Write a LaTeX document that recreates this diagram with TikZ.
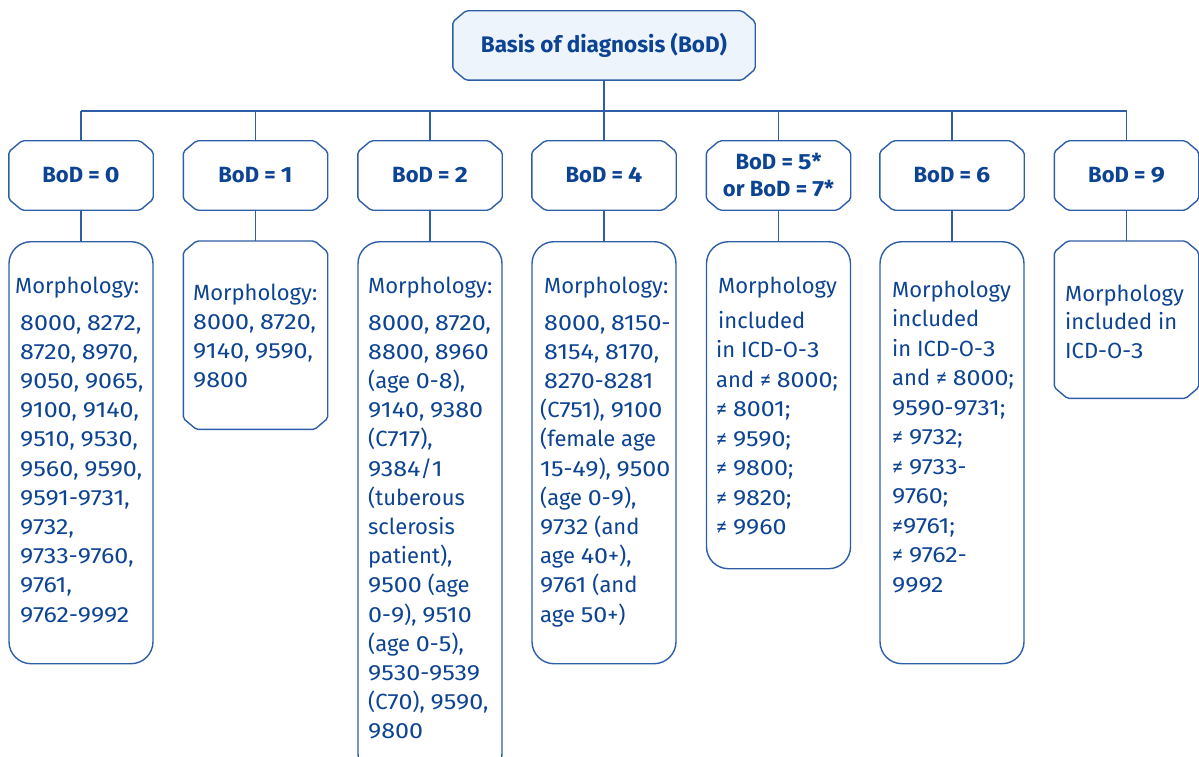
\documentclass[tikz,border=0pt]{standalone}
\usepackage{fontspec}
\setmainfont{Fira Sans}
\newfontfamily\digfam{Fira Sans}[FakeStretch=1.14]
\usetikzlibrary{backgrounds}
\definecolor{tc}{HTML}{0D4393}
\definecolor{lc}{HTML}{2E5EA8}
\definecolor{fc}{HTML}{EEF4FC}
% wider digits, as in the reference face
\newXeTeXintercharclass\DigCls
\XeTeXcharclass`\0=\DigCls \XeTeXcharclass`\1=\DigCls \XeTeXcharclass`\2=\DigCls
\XeTeXcharclass`\3=\DigCls \XeTeXcharclass`\4=\DigCls \XeTeXcharclass`\5=\DigCls
\XeTeXcharclass`\6=\DigCls \XeTeXcharclass`\7=\DigCls \XeTeXcharclass`\8=\DigCls
\XeTeXcharclass`\9=\DigCls
\XeTeXinterchartoks 0 \DigCls = {\begingroup\digfam}
\XeTeXinterchartoks 4095 \DigCls = {\begingroup\digfam}
\XeTeXinterchartoks \DigCls 0 = {\endgroup}
\XeTeXinterchartoks \DigCls 4095 = {\endgroup}
\newcommand\digon{\XeTeXinterchartokenstate=1\relax}
\newcommand\hdfont{\digon\fontsize{22}{27}\selectfont\bfseries}
\newcommand\blk[2]{\parbox[t]{170pt}{\digon\fontsize{22}{#1}\selectfont\raggedright #2}}
\newcommand\chf[2][]{\draw[ln,rounded corners=2pt,#1] ([xshift=13pt]#2.north west) -- ([xshift=-13pt]#2.north east) -- ([yshift=-11pt]#2.north east) -- ([yshift=11pt]#2.south east) -- ([xshift=-13pt]#2.south east) -- ([xshift=13pt]#2.south west) -- ([yshift=11pt]#2.south west) -- ([yshift=-11pt]#2.north west) -- cycle;}
\tikzset{
  ln/.style={draw=lc, line width=1.4pt},
  chbox/.style={rectangle, minimum width=144pt, minimum height=69pt, inner sep=0pt,
    text=tc, align=center, font=\hdfont},
  rbox/.style={rectangle, rounded corners=22pt, draw=lc, line width=1.4pt, minimum width=144pt, inner sep=0pt, anchor=north},
  cbox/.style={rectangle, minimum width=144pt, inner sep=0pt, anchor=north},
  txt/.style={anchor=base west, inner sep=0pt, text=tc}
}
\begin{document}
\begin{tikzpicture}[x=1pt,y=-1pt]
\useasboundingbox (0,0) rectangle (1199,757);
% top
\node[chbox, minimum width=302pt, font=\fontsize{22.5}{27}\selectfont\bfseries] (top) at (604,45.5) {Basis of diagnosis (BoD)};
\begin{pgfonlayer}{background}
\chf[fill=fc]{top}
\end{pgfonlayer}
% headers
\node[chbox] (h0) at (81,175.5) {BoD = 0};
\node[chbox] (h1) at (255.5,175.5) {BoD = 1};
\node[chbox] (h2) at (430,175.5) {BoD = 2};
\node[chbox] (h3) at (604,175.5) {BoD = 4};
\node[chbox] (h4) at (778.5,175.5) {BoD = 5*\\or BoD = 7*};
\node[chbox] (h5) at (952,175.5) {BoD = 6};
\node[chbox] (h6) at (1126.5,175.5) {BoD = 9};
\foreach \i in {0,...,6}{\chf{h\i}}
% text boxes
\node[rbox, minimum height=422pt] (b0) at (81,241) {};
\node[cbox, minimum height=188pt] (b1) at (255.5,241) {};
\node[rbox, minimum height=534pt] (b2) at (430,241) {};
\node[rbox, minimum height=422pt] (b3) at (604,241) {};
\node[rbox, minimum height=327pt] (b4) at (778.5,241) {};
\node[rbox, minimum height=422pt] (b5) at (952,241) {};
\node[cbox, minimum height=157pt] (b6) at (1126.5,241) {};
\chf{b1}
\chf{b6}
% junctions
\coordinate (j0) at (81,111);
\coordinate (j1) at (255.5,111);
\coordinate (j2) at (430,111);
\coordinate (j3) at (604,111);
\coordinate (j4) at (778.5,111);
\coordinate (j5) at (952,111);
\coordinate (j6) at (1126.5,111);
\draw[ln] (top.south) -- (j3);
\draw[ln] (j0) -- (j6);
\foreach \i in {0,...,6}{
  \draw[ln] (j\i) -- (h\i.north);
  \draw[ln] (h\i.south) -- (b\i.north);
}
% texts
\node[txt] (t0a) at (15,293) {\blk{29.2}{Morphology:}};
\node[txt] (t0b) at (20,330) {\blk{29.2}{8000, 8272,\\8720, 8970,\\9050, 9065,\\9100, 9140,\\9510, 9530,\\9560, 9590,\\9591-9731,\\9732,\\9733-9760,\\9761,\\9762-9992}};
\node[txt] (t1) at (193,300) {\blk{29}{Morphology:\\8000, 8720,\\9140, 9590,\\9800}};
\node[txt] (t2a) at (368,293) {\blk{29.2}{Morphology:}};
\node[txt] (t2b) at (368,330) {\blk{29.2}{8000, 8720,\\8800, 8960\\(age 0-8),\\9140, 9380\\(C717),\\9384/1\\(tuberous\\sclerosis\\patient),\\9500 (age\\0-9), 9510\\(age 0-5),\\9530-9539\\(C70), 9590,\\9800}};
\node[txt] (t3a) at (544,293) {\blk{29.2}{Morphology:}};
\node[txt] (t3b) at (544,330) {\blk{29.2}{8000, 8150-\\8154, 8170,\\8270-8281}};
\node[txt] (t3c) at (540,417.6) {\blk{29.2}{(C751), 9100\\(female age\\15-49), 9500\\(age 0-9),\\9732 (and\\age 40+),\\9761 (and\\age 50+)}};
\node[txt] (t4a) at (718,293) {\blk{29.5}{Morphology}};
\node[txt] (t4b) at (718,328) {\blk{29.5}{included}};
\node[txt] (t4c) at (716,357.5) {\blk{29.5}{in ICD-O-3\\and ≠ 8000;\\≠ 8001;\\≠ 9590;\\≠ 9800;\\≠ 9820;\\≠ 9960}};
\node[txt] (t5) at (892,297) {\blk{29.5}{Morphology\\included\\in ICD-O-3\\and ≠ 8000;\\9590-9731;\\≠ 9732;\\≠ 9733-\\9760;\\≠9761;\\≠ 9762-\\9992}};
\node[txt] (t6) at (1065,301) {\blk{28.7}{Morphology\\included in\\ICD-O-3}};
\end{tikzpicture}
\end{document}
